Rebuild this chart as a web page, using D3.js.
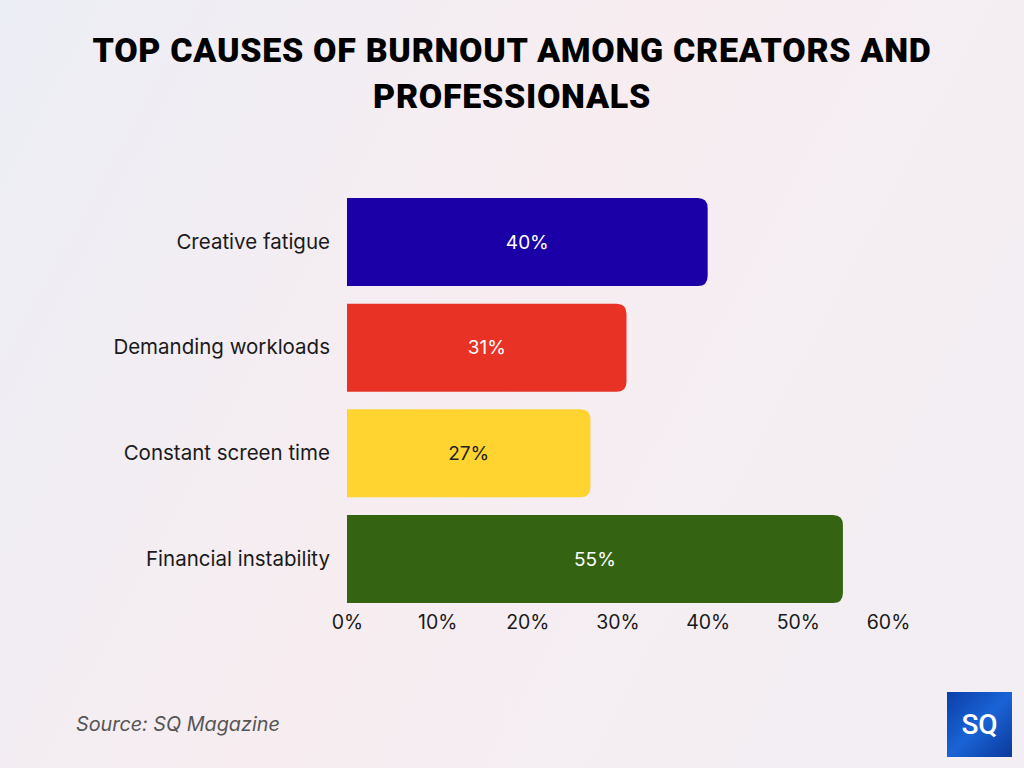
<!DOCTYPE html>
<html><head><meta charset="utf-8">
<script src="https://cdn.jsdelivr.net/npm/d3@7"></script>
<style>
html,body{margin:0;padding:0;}
body{width:1024px;height:768px;overflow:hidden;}
</style></head>
<body>
<svg id="chart" width="1024" height="768"></svg>
<script>
const titleLines = ["TOP CAUSES OF BURNOUT AMONG CREATORS AND", "PROFESSIONALS"];
const categories = ["Creative fatigue", "Demanding workloads", "Constant screen time", "Financial instability"];
const values = [40, 31, 27, 55];
const colors = ["#1b00a8", "#e83225", "#ffd431", "#346312"];
const labelColors = ["#ffffff", "#ffffff", "#222222", "#ffffff"];
const tickValues = [0, 10, 20, 30, 40, 50, 60];
const sourceText = "Source: SQ Magazine";

const svg = d3.select("#chart");
const defs = svg.append("defs");
const bg = defs.append("linearGradient").attr("id","bg").attr("x1","0").attr("y1","0").attr("x2","1").attr("y2","0.4");
bg.append("stop").attr("offset","0").attr("stop-color","#eceef5");
bg.append("stop").attr("offset","0.55").attr("stop-color","#f7edf1");
bg.append("stop").attr("offset","1").attr("stop-color","#f3eef3");
svg.append("rect").attr("width",1024).attr("height",768).attr("fill","url(#bg)");

const lg = defs.append("linearGradient").attr("id","logo").attr("x1","0").attr("y1","0").attr("x2","1").attr("y2","1");
lg.append("stop").attr("offset","0").attr("stop-color","#0b3fa8");
lg.append("stop").attr("offset","0.5").attr("stop-color","#1a63d6");
lg.append("stop").attr("offset","1").attr("stop-color","#0b3a9c");

svg.append("g").selectAll("text").data(titleLines).join("text")
  .attr("x", 512).attr("y", (d,i)=> 62 + i*46)
  .attr("text-anchor","middle")
  .attr("font-family","Roboto, 'DejaVu Sans', sans-serif")
  .attr("font-weight",900).attr("font-size",34).attr("letter-spacing",0.7).attr("fill","#000")
  .text(d=>d);

const x = d3.scaleLinear().domain([0,60]).range([347, 888]);
const y = d3.scaleBand().domain(categories).range([198, 603]).paddingInner(0.167).paddingOuter(0);

function barPath(x0, y0, w, h, r){
  r = Math.min(r, w);
  return `M${x0},${y0} H${x0+w-r} Q${x0+w},${y0} ${x0+w},${y0+r} V${y0+h-r} Q${x0+w},${y0+h} ${x0+w-r},${y0+h} H${x0} Z`;
}

const bars = svg.append("g");
bars.selectAll("path").data(categories).join("path")
  .attr("d",(d,i)=> barPath(x(0), y(d), x(values[i])-x(0), y.bandwidth(), 10))
  .attr("fill",(d,i)=>colors[i]);

bars.selectAll("text.val").data(categories).join("text").attr("class","val")
  .attr("x",(d,i)=> (x(0)+x(values[i]))/2)
  .attr("y",d=> y(d)+y.bandwidth()/2)
  .attr("dy","0.35em").attr("text-anchor","middle")
  .attr("font-family","Inter, 'Open Sans', sans-serif").attr("font-size",19)
  .attr("fill",(d,i)=>labelColors[i])
  .text((d,i)=> values[i]+"%");

const yAxis = svg.append("g").attr("transform",`translate(${x(0)-17},0)`)
  .call(d3.axisLeft(y).tickSize(0).tickPadding(0));
yAxis.select(".domain").remove();
yAxis.selectAll("text").attr("font-family","Inter, 'Open Sans', sans-serif").attr("font-size",20.5).attr("fill","#1a1a1a");

const xAxis = svg.append("g").attr("transform",`translate(0,${y.range()[1]+12})`)
  .call(d3.axisBottom(x).tickValues(tickValues).tickFormat(d=>d+"%").tickSize(0).tickPadding(0));
xAxis.select(".domain").remove();
xAxis.selectAll("text").attr("dy","0.71em").attr("font-family","Inter, 'Open Sans', sans-serif").attr("font-size",19.5).attr("fill","#1a1a1a");

svg.append("text").attr("x",76).attr("y",731)
  .attr("font-family","Inter, 'Open Sans', sans-serif").attr("font-style","italic")
  .attr("font-size",19.8).attr("fill","#555").text(sourceText);

const logo = svg.append("g").attr("transform","translate(947,692)");
logo.append("rect").attr("width",65).attr("height",65).attr("fill","url(#logo)");
logo.append("text").attr("x",32.5).attr("y",42).attr("text-anchor","middle")
  .attr("font-family","Roboto, sans-serif").attr("font-weight",500).attr("font-size",28)
  .attr("fill","#fff").text("SQ");
</script>
</body></html>
